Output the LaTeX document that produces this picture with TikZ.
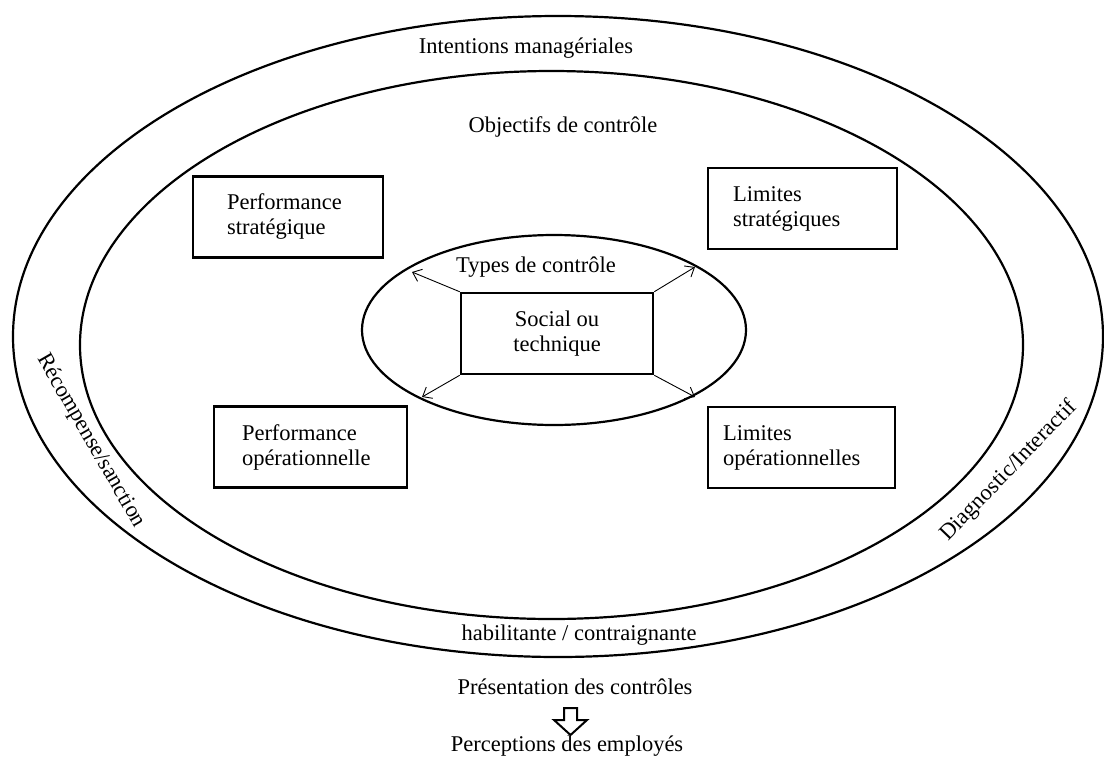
\documentclass[tikz,border=0pt]{standalone}
\usepackage{fontspec}
\setmainfont{Liberation Serif}
\usetikzlibrary{shapes.geometric,arrows.meta}
\begin{document}
\begin{tikzpicture}[x=1pt,y=-1pt,
  every node/.style={font=\fontsize{22.5}{25}\selectfont, inner sep=0pt},
  ring/.style={draw, ellipse, line width=2.2pt, inner sep=0pt},
  box/.style={draw, line width=2.8pt, align=left, minimum height=81pt},
  ptr/.style={line width=0.9pt, -{Straight Barb[length=8pt,width=13pt]}}]
\useasboundingbox (0,0) rectangle (1104,756);
\fill[white] (0,0) rectangle (1104,756);
% ellipses
\node[ring, minimum width=1090pt, minimum height=641pt] (outer) at (558,336.5) {};
\node[ring, minimum width=943pt, minimum height=548pt] (inner) at (551.5,345) {};
\node[ring, minimum width=384pt, minimum height=190pt] (typ) at (554,330) {};
% boxes
\node[box, minimum width=190pt, text width=122pt, inner xsep=34pt] (ps) at (288,217) {Performance\\stratégique};
\node[box, minimum width=189pt, text width=139pt, inner xsep=25pt] (ls) at (802.5,208.5) {Limites\\stratégiques};
\node[box, minimum width=193pt, text width=137pt, inner xsep=28pt] (po) at (310.5,447) {Performance\\opérationnelle};
\node[box, minimum width=187pt, text width=157pt, inner xsep=15pt] (lo) at (801.5,447.5) {Limites\\opérationnelles};
\node[draw, line width=2.5pt, minimum width=192pt, minimum height=81pt, align=center] (soc) at (557,333.5) {Social ou\\technique};
% arrows from centre box
\coordinate (a1) at (412,272);
\coordinate (a2) at (695,267);
\coordinate (a3) at (422,397);
\coordinate (a4) at (695,397);
\draw[ptr] (soc.north west) -- (a1);
\draw[ptr] (soc.north east) -- (a2);
\draw[ptr] (soc.south west) -- (a3);
\draw[ptr] (soc.south east) -- (a4);
% labels
\node (intent) at (526,48) {Intentions managériales};
\node (obj) at (563,127) {Objectifs de contrôle};
\node (typl) at (536,267) {Types de contrôle};
\node (hab) at (579,635) {habilitante / contraignante};
\node (pres) at (575,687) {Présentation des contrôles};
\node (perc) at (567,746) {Perceptions des employés};
\node[rotate=-60] (rec) at (91,441) {Récompense/sanction};
\node[rotate=46] (diag) at (1009,471) {Diagnostic/Interactif};
% hollow arrow
\draw[line width=2pt, line join=miter] (564,708) -- (577,708) -- (577,720) -- (587,720) -- (570.5,735) -- (554,720) -- (564,720) -- cycle;
\end{tikzpicture}
\end{document}
